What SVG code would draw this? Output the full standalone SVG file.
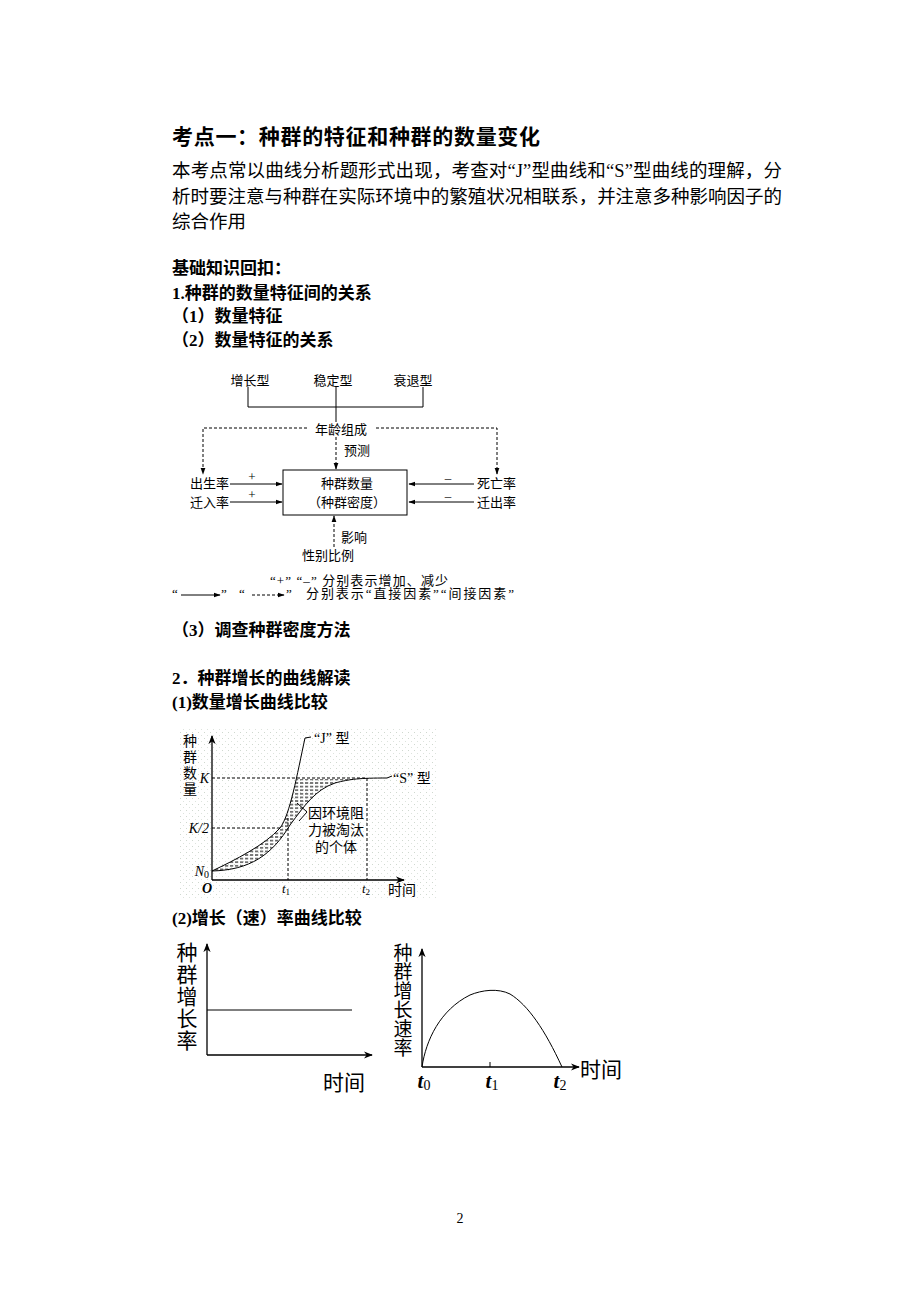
<svg xmlns="http://www.w3.org/2000/svg" width="920" height="1302" viewBox="0 0 920 1302">
<style>
.t{font-family:"Liberation Serif","Noto Sans CJK SC",serif;fill:#000}
.b{font-weight:bold}
.s13{font-size:13px}
.ln{stroke:#000;stroke-width:1;fill:none}
.dl{stroke:#000;stroke-width:1;fill:none;stroke-dasharray:3,2}
.ax{stroke:#000;stroke-width:1.3;fill:none}
.it{font-style:italic}
</style>
<defs>
<marker id="ah" viewBox="0 0 10 10" refX="9" refY="5" markerWidth="7" markerHeight="7" orient="auto" markerUnits="userSpaceOnUse"><path d="M0,1.5 L10,5 L0,8.5 Z" fill="#000"/></marker>
<marker id="ax" viewBox="0 0 10 10" refX="9" refY="5" markerWidth="9" markerHeight="9" orient="auto" markerUnits="userSpaceOnUse"><path d="M0,1 L10,5 L0,9 L3,5 Z" fill="#000"/></marker>
<pattern id="hatch" width="5" height="3.6" patternUnits="userSpaceOnUse"><line x1="0" y1="1.8" x2="3.2" y2="1.8" stroke="#000" stroke-width="1"/></pattern>
<pattern id="dots" width="6" height="6" patternUnits="userSpaceOnUse"><rect x="0" y="0" width="1" height="1" fill="#cfd8cf"/><rect x="3" y="3" width="1" height="1" fill="#dde3dd"/></pattern>
<clipPath id="between"><path d="M212,871 C235,860 265,845 280,828 C290,815 297,775 305,738 L387,738 L387,778 C360,778 350,779 335,783 C315,790 305,805 290,825 C272,855 250,870 212,871 Z"/></clipPath>
</defs>
<rect width="920" height="1302" fill="#fff"/>

<g id="text-header">
<text class="t b" x="172" y="144" font-size="21" textLength="368" lengthAdjust="spacing">考点一：种群的特征和种群的数量变化</text>
<text class="t" x="172" y="177" font-size="18.5" textLength="610" lengthAdjust="spacing">本考点常以曲线分析题形式出现，考查对“J”型曲线和“S”型曲线的理解，分</text>
<text class="t" x="172" y="203" font-size="18.5" textLength="610" lengthAdjust="spacing">析时要注意与种群在实际环境中的繁殖状况相联系，并注意多种影响因子的</text>
<text class="t" x="172" y="228" font-size="18.5">综合作用</text>
<text class="t b" x="172" y="274" font-size="17">基础知识回扣：</text>
<text class="t b" x="172" y="299" font-size="17">1.种群的数量特征间的关系</text>
<text class="t b" x="172" y="322" font-size="17">（1）数量特征</text>
<text class="t b" x="172" y="346" font-size="17">（2）数量特征的关系</text>
<text class="t b" x="172" y="636" font-size="17">（3）调查种群密度方法</text>
<text class="t b" x="172" y="684" font-size="17">2．种群增长的曲线解读</text>
<text class="t b" x="172" y="708" font-size="17">(1)数量增长曲线比较</text>
<text class="t b" x="172" y="924" font-size="17">(2)增长（速）率曲线比较</text>
<text class="t" x="460" y="1223" font-size="14" text-anchor="middle">2</text>
</g>

<g id="flow-nodes">
<g id="n-growth"><text class="t s13" x="250" y="385" text-anchor="middle">增长型</text></g>
<g id="n-stable"><text class="t s13" x="333" y="385" text-anchor="middle">稳定型</text></g>
<g id="n-decline"><text class="t s13" x="413" y="385" text-anchor="middle">衰退型</text></g>
<g id="n-age"><text class="t s13" x="341" y="434" text-anchor="middle">年龄组成</text></g>
<g id="n-box"><rect x="283" y="470" width="124" height="45" fill="none" stroke="#000" stroke-width="1"/>
<text class="t s13" x="347" y="488" text-anchor="middle">种群数量</text>
<text class="t s13" x="347" y="507" text-anchor="middle">（种群密度）</text></g>
<g id="n-birth"><text class="t s13" x="229" y="488" text-anchor="end">出生率</text></g>
<g id="n-immig"><text class="t s13" x="229" y="507" text-anchor="end">迁入率</text></g>
<g id="n-death"><text class="t s13" x="477" y="488">死亡率</text></g>
<g id="n-emig"><text class="t s13" x="477" y="507">迁出率</text></g>
<g id="n-sex"><text class="t s13" x="328" y="560" text-anchor="middle">性别比例</text></g>
</g>

<g id="flow-connectors">
<polyline class="ln" points="248,387 248,407 423,407 423,387"/>
<line class="ln" x1="336" y1="387" x2="336" y2="422"/>
<polyline class="dl" points="307,428 203,428 203,474" marker-end="url(#ah)"/>
<polyline class="dl" points="376,428 497,428 497,474" marker-end="url(#ah)"/>
<line class="dl" x1="336" y1="437" x2="336" y2="469" marker-end="url(#ah)"/>
<text class="t s13" x="344" y="455">预测</text>
<line class="ln" x1="230" y1="484" x2="282" y2="484" marker-end="url(#ah)"/>
<line class="ln" x1="230" y1="502" x2="282" y2="502" marker-end="url(#ah)"/>
<text class="t s13" x="252" y="481" text-anchor="middle">+</text>
<text class="t s13" x="252" y="499" text-anchor="middle">+</text>
<line class="ln" x1="474" y1="484" x2="409" y2="484" marker-end="url(#ah)"/>
<line class="ln" x1="474" y1="502" x2="409" y2="502" marker-end="url(#ah)"/>
<text class="t s13" x="448" y="482" text-anchor="middle">–</text>
<text class="t s13" x="448" y="500" text-anchor="middle">–</text>
<line class="dl" x1="334" y1="547" x2="334" y2="516" marker-end="url(#ah)"/>
<text class="t s13" x="341" y="542">影响</text>
</g>

<g id="flow-legend">
<text class="t s13" x="270" y="585" textLength="178" lengthAdjust="spacing">“+” “–” 分别表示增加、减少</text>
<text class="t s13" x="172" y="598">“</text>
<line class="ln" x1="181" y1="595" x2="220" y2="595" marker-end="url(#ah)"/>
<text class="t s13" x="221" y="598">”</text>
<text class="t s13" x="239" y="598">“</text>
<line class="dl" x1="252" y1="595" x2="284" y2="595" marker-end="url(#ah)"/>
<text class="t s13" x="286" y="598">”</text>
<text class="t s13" x="306" y="598" textLength="208" lengthAdjust="spacing">分别表示“直接因素”“间接因素”</text>
</g>

<g id="graph-number">
<rect x="180" y="728" width="258" height="172" fill="url(#dots)"/>
<rect x="212" y="779" width="170" height="95" fill="url(#hatch)" clip-path="url(#between)"/>
<line class="ax" x1="212" y1="880" x2="212" y2="736" marker-end="url(#ax)"/>
<line class="ax" x1="212" y1="880" x2="404" y2="880" marker-end="url(#ax)"/>
<line class="dl" x1="212" y1="778" x2="367" y2="778"/>
<line class="dl" x1="212" y1="828" x2="282" y2="828"/>
<line class="dl" x1="288" y1="818" x2="288" y2="880"/>
<line class="dl" x1="367" y1="778" x2="367" y2="880"/>
<path class="ln" stroke-width="1.2" d="M212,871 C235,860 265,845 280,828 C290,815 297,775 305,738 L311,737"/>
<path class="ln" stroke-width="1.2" d="M212,871 C250,870 272,855 290,825 C305,805 315,790 335,783 C350,779 360,778 387,778 L392,776"/>
<polyline class="ln" points="297,803 307,812 299,821"/>
<g font-size="14">
<text class="t" x="190" y="746" text-anchor="middle">种</text>
<text class="t" x="190" y="762" text-anchor="middle">群</text>
<text class="t" x="190" y="778" text-anchor="middle">数</text>
<text class="t" x="190" y="794" text-anchor="middle">量</text>
<text class="t" x="336" y="818" text-anchor="middle">因环境阻</text>
<text class="t" x="336" y="835" text-anchor="middle">力被淘汰</text>
<text class="t" x="336" y="852" text-anchor="middle">的个体</text>
<text class="t" x="402" y="895" text-anchor="middle">时间</text>
<text class="t" x="314" y="743">“J” 型</text>
<text class="t" x="393" y="783">“S” 型</text>
</g>
<text class="t it" x="209" y="783" font-size="14" text-anchor="end">K</text>
<text class="t it" x="209" y="833" font-size="14" text-anchor="end">K/2</text>
<text class="t it" x="209" y="876" font-size="14" text-anchor="end">N<tspan font-size="10" font-style="normal" dy="2">0</tspan></text>
<text class="t it b" x="207" y="893" font-size="14" text-anchor="middle">O</text>
<text class="t it" x="286" y="893" font-size="13" text-anchor="middle">t<tspan font-size="9" font-style="normal" dy="2">1</tspan></text>
<text class="t it" x="366" y="893" font-size="13" text-anchor="middle">t<tspan font-size="9" font-style="normal" dy="2">2</tspan></text>
</g>

<g id="graph-rate">
<line class="ax" x1="207" y1="1055" x2="207" y2="944" marker-end="url(#ax)"/>
<line class="ax" x1="207" y1="1055" x2="372" y2="1055" marker-end="url(#ax)"/>
<line class="ln" stroke-width="1.5" x1="207" y1="1010" x2="352" y2="1010"/>
<g font-size="21">
<text class="t" x="187" y="960" text-anchor="middle">种</text>
<text class="t" x="187" y="982" text-anchor="middle">群</text>
<text class="t" x="187" y="1004" text-anchor="middle">增</text>
<text class="t" x="187" y="1026" text-anchor="middle">长</text>
<text class="t" x="187" y="1048" text-anchor="middle">率</text>
<text class="t" x="344" y="1090" text-anchor="middle">时间</text>
</g>
</g>

<g id="graph-speed">
<line class="ax" x1="422" y1="1067" x2="422" y2="949" marker-end="url(#ax)"/>
<line class="ax" x1="422" y1="1067" x2="579" y2="1067" marker-end="url(#ax)"/>
<path class="ln" stroke-width="1.5" d="M422,1067 C426,1040 440,1010 470,995 C482,990 498,988 510,994 C528,1005 545,1030 562,1067"/>
<line class="ln" x1="490" y1="1062" x2="490" y2="1067"/>
<g font-size="19">
<text class="t" x="403" y="960" text-anchor="middle">种</text>
<text class="t" x="403" y="979" text-anchor="middle">群</text>
<text class="t" x="403" y="998" text-anchor="middle">增</text>
<text class="t" x="403" y="1017" text-anchor="middle">长</text>
<text class="t" x="403" y="1036" text-anchor="middle">速</text>
<text class="t" x="403" y="1055" text-anchor="middle">率</text>
</g>
<text class="t" x="601" y="1077" font-size="21" text-anchor="middle">时间</text>
<text class="t it b" x="424" y="1088" font-size="21" text-anchor="middle">t<tspan font-size="14" font-style="normal" font-weight="normal" dy="2">0</tspan></text>
<text class="t it b" x="492" y="1088" font-size="21" text-anchor="middle">t<tspan font-size="14" font-style="normal" font-weight="normal" dy="2">1</tspan></text>
<text class="t it b" x="560" y="1088" font-size="21" text-anchor="middle">t<tspan font-size="14" font-style="normal" font-weight="normal" dy="2">2</tspan></text>
</g>
</svg>
